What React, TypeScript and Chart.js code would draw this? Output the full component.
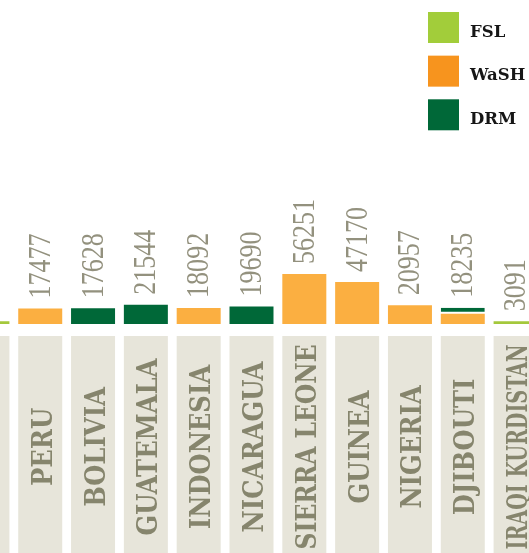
import React, { useEffect, useRef } from "react";
import { Chart, registerables } from "chart.js";

Chart.register(...registerables);

// ---- data ----
const categories = ["", "PERU", "BOLIVIA", "GUATEMALA", "INDONESIA", "NICARAGUA", "SIERRA LEONE", "GUINEA", "NIGERIA", "DJIBOUTI", "IRAQI KURDISTAN"];
const fslValues = [3000, 0, 0, 0, 0, 0, 0, 0, 0, 0, 3091];
const washValues = [0, 17477, 0, 0, 18092, 0, 56251, 47170, 20957, 11500, 0];
const drmValues = [0, 0, 17628, 21544, 0, 19690, 0, 0, 0, 6735, 0];
const seriesNames = ["FSL", "WaSH", "DRM"];

// ---- styles ----
const barColors = ["#A4C83C", "#FBAF41", "#006838"];
const legendColors = ["#A2CD3A", "#F7941E", "#006838"];
const BOX_COLOR = "#E7E5DA";
const CAT_TEXT = "#86856D";
const VAL_TEXT = "#93917E";
const CANVAS_W = 581;
const CANVAS_H = 553;
const CANVAS_LEFT = -39;

const decorPlugin = {
  id: "decor",
  afterDatasetsDraw(chart: any) {
    const ctx = chart.ctx as CanvasRenderingContext2D;
    const meta0 = chart.getDatasetMeta(0);
    const yScale = chart.scales.y;
    categories.forEach((cat, i) => {
      const bar = meta0.data[i] as any;
      const cx = bar.x;
      const w = bar.width;
      // category box
      ctx.save();
      ctx.fillStyle = BOX_COLOR;
      ctx.fillRect(cx - w / 2, 336, w, 222);
      ctx.restore();
      // category label
      if (cat) {
        ctx.save();
        ctx.font = "bold 27px 'DejaVu Serif Condensed', 'DejaVu Serif', serif";
        ctx.fillStyle = CAT_TEXT;
        ctx.textAlign = "center";
        ctx.textBaseline = "alphabetic";
        ctx.translate(cx + 11.5, 447);
        ctx.rotate(-Math.PI / 2);
        const tw = ctx.measureText(cat).width;
        const maxLen = 205;
        if (tw > maxLen) ctx.scale(maxLen / tw, 1);
        ctx.fillText(cat, 0, 0);
        ctx.restore();
      }
      // value label
      const total = fslValues[i] + washValues[i] + drmValues[i];
      const top = yScale.getPixelForValue(total);
      ctx.save();
      ctx.font = "31px 'Liberation Serif', serif";
      ctx.fillStyle = VAL_TEXT;
      ctx.textAlign = "left";
      ctx.textBaseline = "alphabetic";
      ctx.translate(cx + 9.5, top - 10);
      ctx.rotate(-Math.PI / 2);
      ctx.scale(0.84, 1);
      ctx.fillText(String(total), 0, 0);
      ctx.restore();
    });
    // legend
    seriesNames.forEach((name, i) => {
      const top = 12 + i * 43.65;
      ctx.save();
      ctx.fillStyle = legendColors[i];
      ctx.fillRect(428 - CANVAS_LEFT, top, 31, 31);
      ctx.fillStyle = "#161616";
      ctx.font = "bold 16.5px 'DejaVu Serif', serif";
      ctx.textAlign = "left";
      ctx.textBaseline = "alphabetic";
      ctx.fillText(name, 470 - CANVAS_LEFT, top + 24.7);
      ctx.restore();
    });
  },
};

export default function App() {
  const ref = useRef<HTMLCanvasElement | null>(null);
  useEffect(() => {
    if (!ref.current) return;
    const chart = new Chart(ref.current, {
      type: "bar",
      data: {
        labels: categories,
        datasets: [
          { label: seriesNames[0], data: fslValues, backgroundColor: barColors[0], borderWidth: 0 },
          { label: seriesNames[1], data: washValues, backgroundColor: barColors[1], borderWidth: 0 },
          {
            label: seriesNames[2],
            data: drmValues,
            backgroundColor: barColors[2],
            borderColor: "#FFFFFF",
            borderSkipped: false,
            borderWidth: (c: any) => (washValues[c.dataIndex] > 0 ? { top: 0, left: 0, right: 0, bottom: 2 } : 0),
          },
        ],
      },
      options: {
        responsive: false,
        animation: false,
        layout: { padding: { top: 0, bottom: CANVAS_H - 324, left: 0, right: 0 } },
        datasets: { bar: { barPercentage: 0.833, categoryPercentage: 1 } },
        scales: {
          x: { display: false, stacked: true, offset: true },
          y: { display: false, stacked: true, min: 0, max: 364500 },
        },
        plugins: { legend: { display: false }, tooltip: { enabled: false } },
      },
      plugins: [decorPlugin],
    } as any);
    return () => chart.destroy();
  }, []);
  return (
    <div style={{ position: "fixed", left: 0, top: 0, width: 529, height: 553, overflow: "hidden", background: "#fff" }}>
      <canvas ref={ref} width={CANVAS_W} height={CANVAS_H} style={{ position: "absolute", left: CANVAS_LEFT, top: 0 }} />
    </div>
  );
}
